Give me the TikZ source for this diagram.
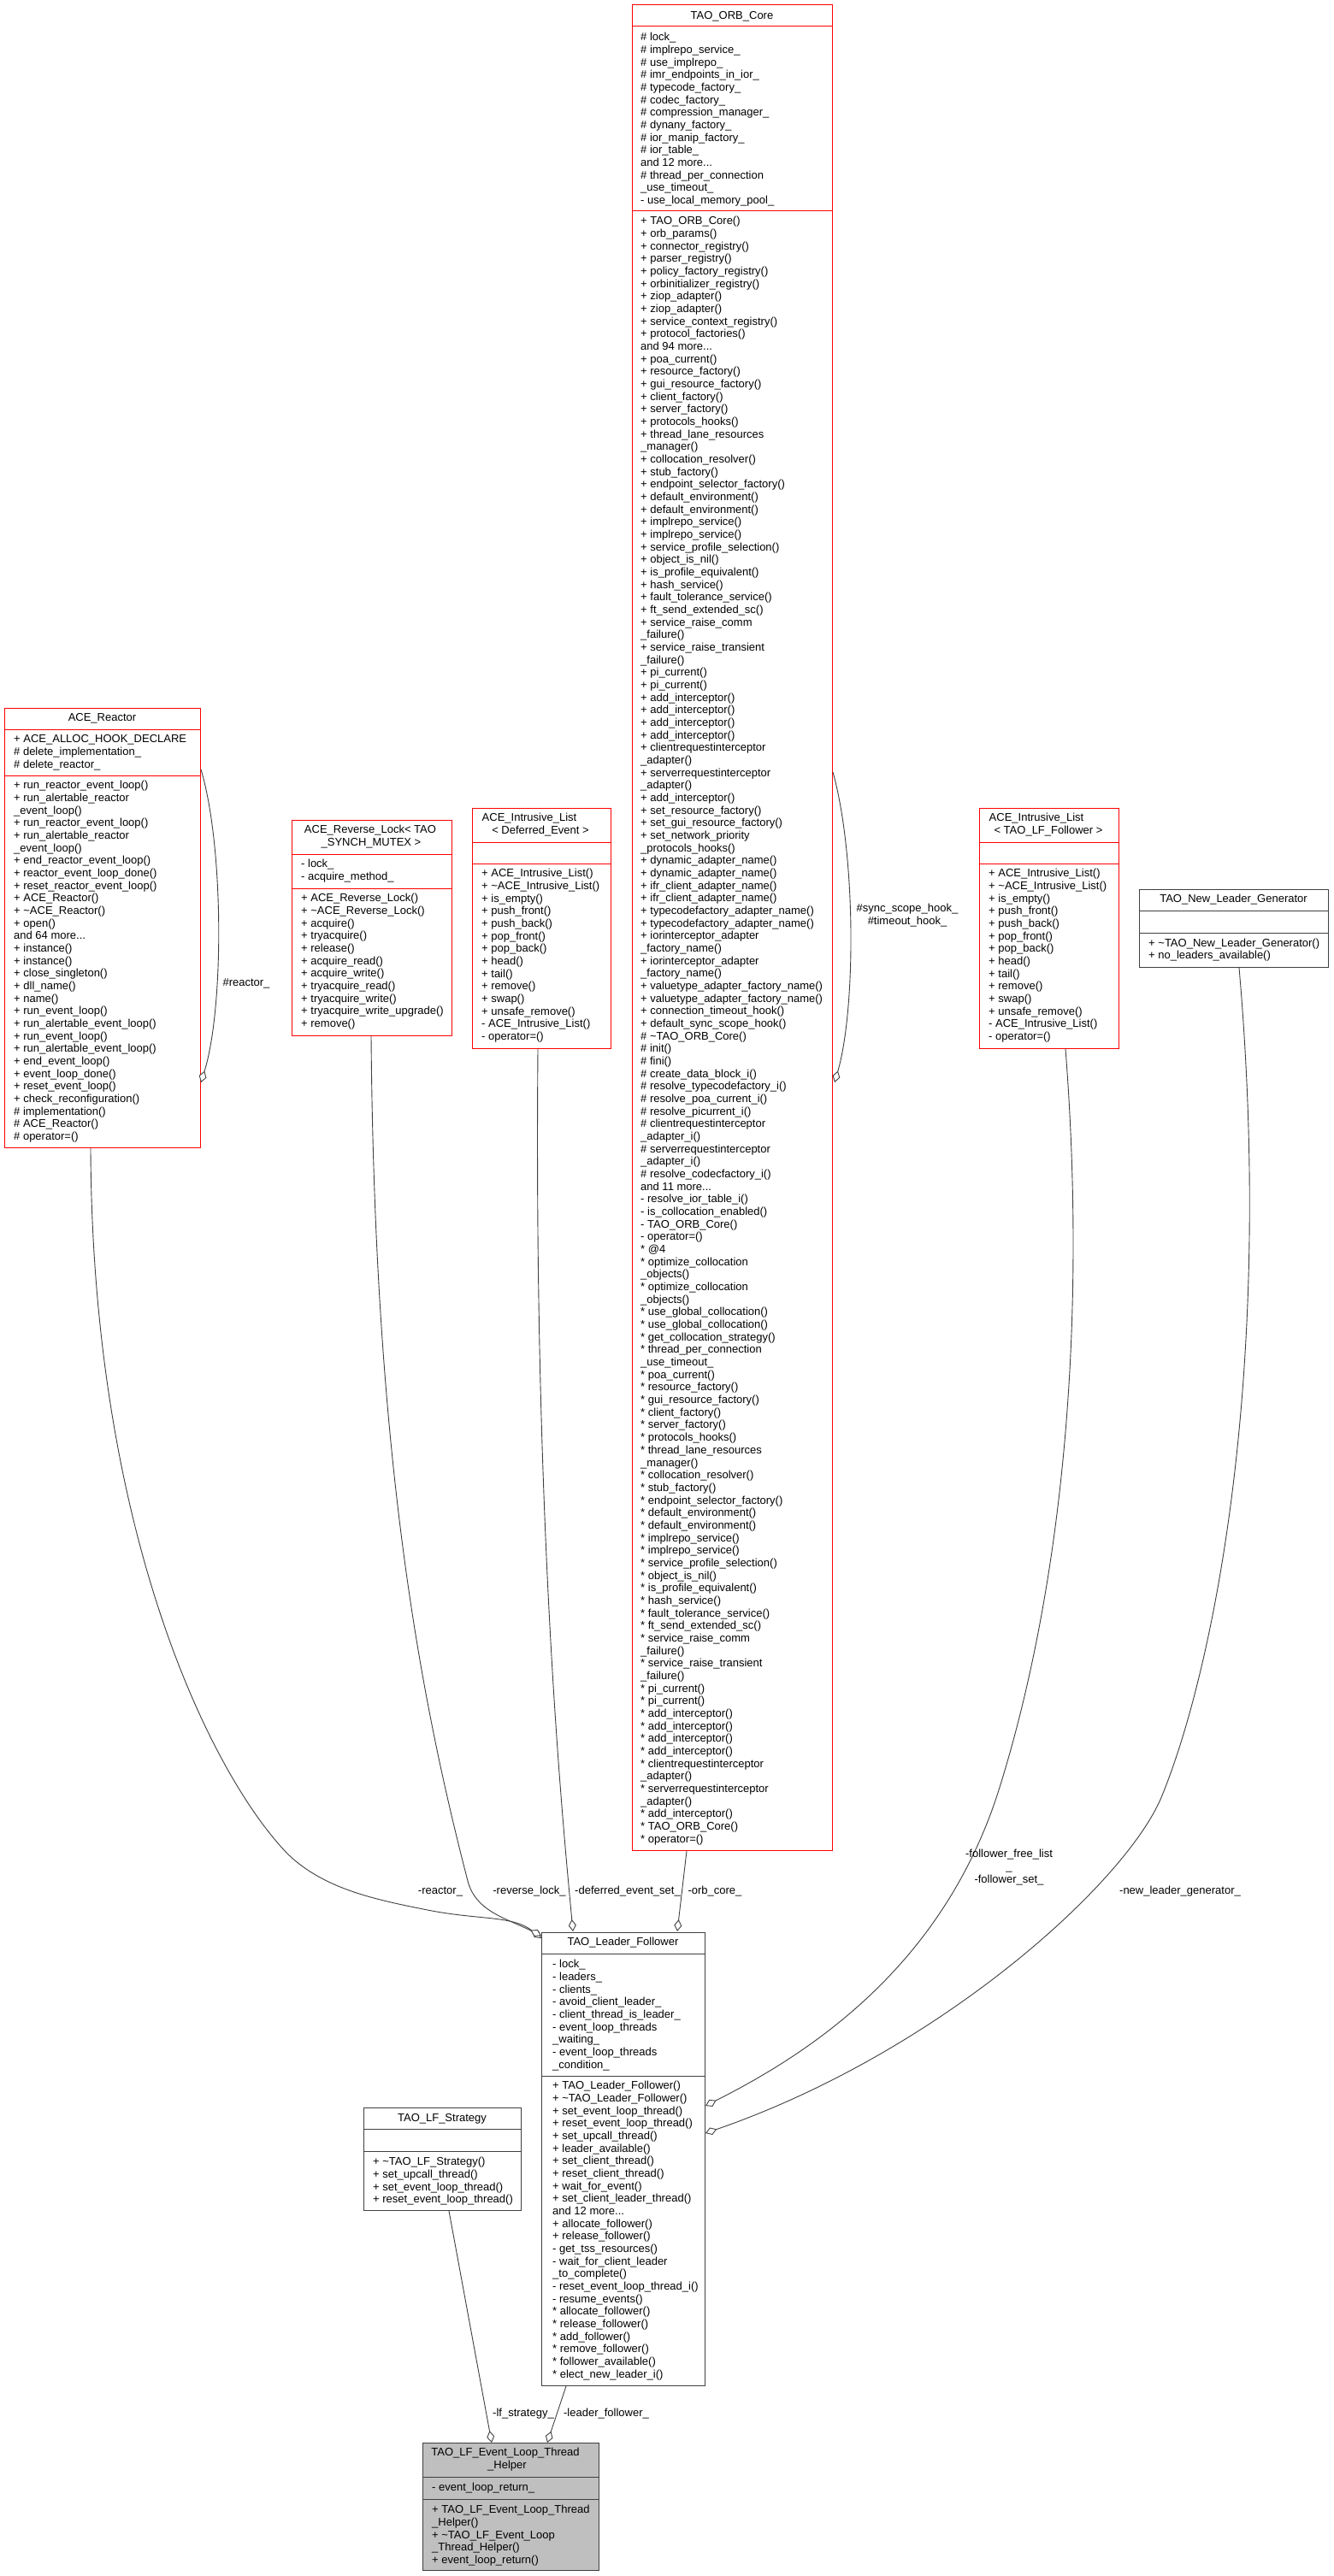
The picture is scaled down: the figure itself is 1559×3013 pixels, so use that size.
\documentclass[tikz,border=0pt]{standalone}
\usepackage{fontspec}
\setmainfont{Liberation Sans}
\usetikzlibrary{arrows.meta,calc}
\newcommand\ff{\fontsize{13}{14.67}\selectfont}
\newcommand\tld{\textasciitilde{}}
\newcommand\mline[1]{\hbox{\strut#1}}
\begin{document}
\catcode`\_=12
\begin{tikzpicture}[x=1pt,y=-1pt,
  redbox/.style={draw=red, line width=1pt, inner sep=0pt, anchor=north west},
  blkbox/.style={draw=black!75, line width=1pt, inner sep=0pt, anchor=north west},
  redsep/.style={draw=red, line width=1pt},
  blksep/.style={draw=black!75, line width=1pt},
  txt/.style={anchor=north west, inner sep=0pt, font=\ff},
  ttl/.style={anchor=base, inner sep=0pt, font=\ff},
  elab/.style={anchor=base, inner sep=0pt, font=\ff, align=center},
  conn/.style={draw=black!75, line width=0.9pt},
  agg/.style={conn, -{Diamond[length=14pt, width=9pt, fill=white]}}]
\fill[white] (0,0) rectangle (1559,3013);
\useasboundingbox (0,0) rectangle (1559,3013);

% ---------------- TAO_ORB_Core
\node[redbox, minimum width=234pt, minimum height=2159pt] (orb) at (739,5) {};
\draw[redsep] (739,31) -- (973,31);
\draw[redsep] (739,246) -- (973,246);
\node[ttl] (orbT) at (856,22.5) {TAO_ORB_Core};
\node[txt] (orbA) at (749,37.2) {\vtop{\mline{\# lock_}
\mline{\# implrepo_service_}
\mline{\# use_implrepo_}
\mline{\# imr_endpoints_in_ior_}
\mline{\# typecode_factory_}
\mline{\# codec_factory_}
\mline{\# compression_manager_}
\mline{\# dynany_factory_}
\mline{\# ior_manip_factory_}
\mline{\# ior_table_}
\mline{and 12 more...}
\mline{\# thread_per_connection}
\mline{_use_timeout_}
\mline{- use_local_memory_pool_}}};
\node[txt] (orbM) at (749,252.2) {\vtop{\mline{+ TAO_ORB_Core()}
\mline{+ orb_params()}
\mline{+ connector_registry()}
\mline{+ parser_registry()}
\mline{+ policy_factory_registry()}
\mline{+ orbinitializer_registry()}
\mline{+ ziop_adapter()}
\mline{+ ziop_adapter()}
\mline{+ service_context_registry()}
\mline{+ protocol_factories()}
\mline{and 94 more...}
\mline{+ poa_current()}
\mline{+ resource_factory()}
\mline{+ gui_resource_factory()}
\mline{+ client_factory()}
\mline{+ server_factory()}
\mline{+ protocols_hooks()}
\mline{+ thread_lane_resources}
\mline{_manager()}
\mline{+ collocation_resolver()}
\mline{+ stub_factory()}
\mline{+ endpoint_selector_factory()}
\mline{+ default_environment()}
\mline{+ default_environment()}
\mline{+ implrepo_service()}
\mline{+ implrepo_service()}
\mline{+ service_profile_selection()}
\mline{+ object_is_nil()}
\mline{+ is_profile_equivalent()}
\mline{+ hash_service()}
\mline{+ fault_tolerance_service()}
\mline{+ ft_send_extended_sc()}
\mline{+ service_raise_comm}
\mline{_failure()}
\mline{+ service_raise_transient}
\mline{_failure()}
\mline{+ pi_current()}
\mline{+ pi_current()}
\mline{+ add_interceptor()}
\mline{+ add_interceptor()}
\mline{+ add_interceptor()}
\mline{+ add_interceptor()}
\mline{+ clientrequestinterceptor}
\mline{_adapter()}
\mline{+ serverrequestinterceptor}
\mline{_adapter()}
\mline{+ add_interceptor()}
\mline{+ set_resource_factory()}
\mline{+ set_gui_resource_factory()}
\mline{+ set_network_priority}
\mline{_protocols_hooks()}
\mline{+ dynamic_adapter_name()}
\mline{+ dynamic_adapter_name()}
\mline{+ ifr_client_adapter_name()}
\mline{+ ifr_client_adapter_name()}
\mline{+ typecodefactory_adapter_name()}
\mline{+ typecodefactory_adapter_name()}
\mline{+ iorinterceptor_adapter}
\mline{_factory_name()}
\mline{+ iorinterceptor_adapter}
\mline{_factory_name()}
\mline{+ valuetype_adapter_factory_name()}
\mline{+ valuetype_adapter_factory_name()}
\mline{+ connection_timeout_hook()}
\mline{+ default_sync_scope_hook()}
\mline{\# \tld TAO_ORB_Core()}
\mline{\# init()}
\mline{\# fini()}
\mline{\# create_data_block_i()}
\mline{\# resolve_typecodefactory_i()}
\mline{\# resolve_poa_current_i()}
\mline{\# resolve_picurrent_i()}
\mline{\# clientrequestinterceptor}
\mline{_adapter_i()}
\mline{\# serverrequestinterceptor}
\mline{_adapter_i()}
\mline{\# resolve_codecfactory_i()}
\mline{and 11 more...}
\mline{- resolve_ior_table_i()}
\mline{- is_collocation_enabled()}
\mline{- TAO_ORB_Core()}
\mline{- operator=()}
\mline{* @4}
\mline{* optimize_collocation}
\mline{_objects()}
\mline{* optimize_collocation}
\mline{_objects()}
\mline{* use_global_collocation()}
\mline{* use_global_collocation()}
\mline{* get_collocation_strategy()}
\mline{* thread_per_connection}
\mline{_use_timeout_}
\mline{* poa_current()}
\mline{* resource_factory()}
\mline{* gui_resource_factory()}
\mline{* client_factory()}
\mline{* server_factory()}
\mline{* protocols_hooks()}
\mline{* thread_lane_resources}
\mline{_manager()}
\mline{* collocation_resolver()}
\mline{* stub_factory()}
\mline{* endpoint_selector_factory()}
\mline{* default_environment()}
\mline{* default_environment()}
\mline{* implrepo_service()}
\mline{* implrepo_service()}
\mline{* service_profile_selection()}
\mline{* object_is_nil()}
\mline{* is_profile_equivalent()}
\mline{* hash_service()}
\mline{* fault_tolerance_service()}
\mline{* ft_send_extended_sc()}
\mline{* service_raise_comm}
\mline{_failure()}
\mline{* service_raise_transient}
\mline{_failure()}
\mline{* pi_current()}
\mline{* pi_current()}
\mline{* add_interceptor()}
\mline{* add_interceptor()}
\mline{* add_interceptor()}
\mline{* add_interceptor()}
\mline{* clientrequestinterceptor}
\mline{_adapter()}
\mline{* serverrequestinterceptor}
\mline{_adapter()}
\mline{* add_interceptor()}
\mline{* TAO_ORB_Core()}
\mline{* operator=()}}};

% ---------------- ACE_Reactor
\node[redbox, minimum width=229pt, minimum height=514pt] (reactor) at (5,828) {};
\draw[redsep] (5,853) -- (234,853);
\draw[redsep] (5,907) -- (234,907);
\node[ttl] (reactorT) at (119.5,843.5) {ACE_Reactor};
\node[txt] (reactorA) at (16,858.2) {\vtop{\mline{+ ACE_ALLOC_HOOK_DECLARE}
\mline{\# delete_implementation_}
\mline{\# delete_reactor_}}};
\node[txt] (reactorM) at (16,912.2) {\vtop{\mline{+ run_reactor_event_loop()}
\mline{+ run_alertable_reactor}
\mline{_event_loop()}
\mline{+ run_reactor_event_loop()}
\mline{+ run_alertable_reactor}
\mline{_event_loop()}
\mline{+ end_reactor_event_loop()}
\mline{+ reactor_event_loop_done()}
\mline{+ reset_reactor_event_loop()}
\mline{+ ACE_Reactor()}
\mline{+ \tld ACE_Reactor()}
\mline{+ open()}
\mline{and 64 more...}
\mline{+ instance()}
\mline{+ instance()}
\mline{+ close_singleton()}
\mline{+ dll_name()}
\mline{+ name()}
\mline{+ run_event_loop()}
\mline{+ run_alertable_event_loop()}
\mline{+ run_event_loop()}
\mline{+ run_alertable_event_loop()}
\mline{+ end_event_loop()}
\mline{+ event_loop_done()}
\mline{+ reset_event_loop()}
\mline{+ check_reconfiguration()}
\mline{\# implementation()}
\mline{\# ACE_Reactor()}
\mline{\# operator=()}}};

% ---------------- ACE_Reverse_Lock
\node[redbox, minimum width=187pt, minimum height=252pt] (rlock) at (341,959) {};
\draw[redsep] (341,999) -- (528,999);
\draw[redsep] (341,1039) -- (528,1039);
\node[ttl] (rlockT) at (433,974.5) {ACE_Reverse_Lock< TAO};
\node[ttl] (rlockU) at (434,989.2) {_SYNCH_MUTEX >};
\node[txt] (rlockA) at (352,1004.2) {\vtop{\mline{- lock_}
\mline{- acquire_method_}}};
\node[txt] (rlockM) at (352,1044.2) {\vtop{\mline{+ ACE_Reverse_Lock()}
\mline{+ \tld ACE_Reverse_Lock()}
\mline{+ acquire()}
\mline{+ tryacquire()}
\mline{+ release()}
\mline{+ acquire_read()}
\mline{+ acquire_write()}
\mline{+ tryacquire_read()}
\mline{+ tryacquire_write()}
\mline{+ tryacquire_write_upgrade()}
\mline{+ remove()}}};

% ---------------- ACE_Intrusive_List< Deferred_Event >
\node[redbox, minimum width=162pt, minimum height=281pt] (ildef) at (552,945) {};
\draw[redsep] (552,985) -- (714,985);
\draw[redsep] (552,1010) -- (714,1010);
\node[ttl] (ildefT) at (619,960.5) {ACE_Intrusive_List};
\node[ttl] (ildefU) at (632,975) {< Deferred_Event >};
\node[txt] (ildefM) at (563,1015.2) {\vtop{\mline{+ ACE_Intrusive_List()}
\mline{+ \tld ACE_Intrusive_List()}
\mline{+ is_empty()}
\mline{+ push_front()}
\mline{+ push_back()}
\mline{+ pop_front()}
\mline{+ pop_back()}
\mline{+ head()}
\mline{+ tail()}
\mline{+ remove()}
\mline{+ swap()}
\mline{+ unsafe_remove()}
\mline{- ACE_Intrusive_List()}
\mline{- operator=()}}};

% ---------------- ACE_Intrusive_List< TAO_LF_Follower >
\node[redbox, minimum width=163pt, minimum height=281pt] (ilfol) at (1145,945) {};
\draw[redsep] (1145,985) -- (1308,985);
\draw[redsep] (1145,1010) -- (1308,1010);
\node[ttl] (ilfolT) at (1212,960.5) {ACE_Intrusive_List};
\node[ttl] (ilfolU) at (1226,975) {< TAO_LF_Follower >};
\node[txt] (ilfolM) at (1156,1015.2) {\vtop{\mline{+ ACE_Intrusive_List()}
\mline{+ \tld ACE_Intrusive_List()}
\mline{+ is_empty()}
\mline{+ push_front()}
\mline{+ push_back()}
\mline{+ pop_front()}
\mline{+ pop_back()}
\mline{+ head()}
\mline{+ tail()}
\mline{+ remove()}
\mline{+ swap()}
\mline{+ unsafe_remove()}
\mline{- ACE_Intrusive_List()}
\mline{- operator=()}}};

% ---------------- TAO_New_Leader_Generator
\node[blkbox, minimum width=221pt, minimum height=91pt] (nlg) at (1332,1040) {};
\draw[blksep] (1332,1065) -- (1553,1065);
\draw[blksep] (1332,1091) -- (1553,1091);
\node[ttl] (nlgT) at (1442.5,1055.5) {TAO_New_Leader_Generator};
\node[txt] (nlgM) at (1343,1096.7) {\vtop{\mline{+ \tld TAO_New_Leader_Generator()}
\mline{+ no_leaders_available()}}};

% ---------------- TAO_Leader_Follower
\node[blkbox, minimum width=191pt, minimum height=530pt] (lf) at (633,2260) {};
\draw[blksep] (633,2285) -- (824,2285);
\draw[blksep] (633,2428) -- (824,2428);
\node[ttl] (lfT) at (728.5,2275.5) {TAO_Leader_Follower};
\node[txt] (lfA) at (646,2291.2) {\vtop{\mline{- lock_}
\mline{- leaders_}
\mline{- clients_}
\mline{- avoid_client_leader_}
\mline{- client_thread_is_leader_}
\mline{- event_loop_threads}
\mline{_waiting_}
\mline{- event_loop_threads}
\mline{_condition_}}};
\node[txt] (lfM) at (646,2433.2) {\vtop{\mline{+ TAO_Leader_Follower()}
\mline{+ \tld TAO_Leader_Follower()}
\mline{+ set_event_loop_thread()}
\mline{+ reset_event_loop_thread()}
\mline{+ set_upcall_thread()}
\mline{+ leader_available()}
\mline{+ set_client_thread()}
\mline{+ reset_client_thread()}
\mline{+ wait_for_event()}
\mline{+ set_client_leader_thread()}
\mline{and 12 more...}
\mline{+ allocate_follower()}
\mline{+ release_follower()}
\mline{- get_tss_resources()}
\mline{- wait_for_client_leader}
\mline{_to_complete()}
\mline{- reset_event_loop_thread_i()}
\mline{- resume_events()}
\mline{* allocate_follower()}
\mline{* release_follower()}
\mline{* add_follower()}
\mline{* remove_follower()}
\mline{* follower_available()}
\mline{* elect_new_leader_i()}}};

% ---------------- TAO_LF_Strategy
\node[blkbox, minimum width=184pt, minimum height=120pt] (strat) at (425,2465) {};
\draw[blksep] (425,2490) -- (609,2490);
\draw[blksep] (425,2516) -- (609,2516);
\node[ttl] (stratT) at (517,2481.5) {TAO_LF_Strategy};
\node[txt] (stratM) at (436,2522.2) {\vtop{\mline{+ \tld TAO_LF_Strategy()}
\mline{+ set_upcall_thread()}
\mline{+ set_event_loop_thread()}
\mline{+ reset_event_loop_thread()}}};

% ---------------- TAO_LF_Event_Loop_Thread_Helper
\node[blkbox, fill=black!25, minimum width=206pt, minimum height=149pt] (helper) at (494,2857) {};
\draw[blksep] (494,2897) -- (700,2897);
\draw[blksep] (494,2923) -- (700,2923);
\node[ttl] (helperT) at (591,2872.5) {TAO_LF_Event_Loop_Thread};
\node[ttl] (helperU) at (593,2887.2) {_Helper};
\node[txt] (helperA) at (505,2903.2) {\vtop{\mline{- event_loop_return_}}};
\node[txt] (helperM) at (505,2929.2) {\vtop{\mline{+ TAO_LF_Event_Loop_Thread}
\mline{_Helper()}
\mline{+ \tld TAO_LF_Event_Loop}
\mline{_Thread_Helper()}
\mline{+ event_loop_return()}}};

% ---------------- connector end points
\coordinate (rS) at ($(reactor.south west)+(101,0)$);
\coordinate (rL1) at ($(reactor.north east)+(0,72)$);
\coordinate (rL2) at ($(reactor.north east)+(0,438)$);
\coordinate (rlS) at ($(rlock.south west)+(93,0)$);
\coordinate (idS) at ($(ildef.south west)+(77,0)$);
\coordinate (oS) at ($(orb.south west)+(64,0)$);
\coordinate (oL1) at ($(orb.north east)+(0,898)$);
\coordinate (oL2) at ($(orb.north east)+(2,1261)$);
\coordinate (fS) at ($(ilfol.south west)+(101,0)$);
\coordinate (nS) at ($(nlg.south west)+(117,0)$);
\coordinate (sS) at ($(strat.south west)+(100,0)$);
\coordinate (lS) at ($(lf.south west)+(29,0)$);
\coordinate (lfR) at ($(lf.north west)+(0,7)$);
\coordinate (lfRL) at ($(lf.north west)+(0,4)$);
\coordinate (lfD) at ($(lf.north west)+(37,-1)$);
\coordinate (lfO) at ($(lf.north west)+(159,-1)$);
\coordinate (lfF) at ($(lf.north east)+(0,203)$);
\coordinate (lfN) at ($(lf.north east)+(0,235)$);
\coordinate (hS) at ($(helper.north west)+(81,0)$);
\coordinate (hL) at ($(helper.north west)+(146,0)$);

% ---------------- connectors
\draw[agg] (rL1) .. controls (262,990) and (262,1180) .. (rL2);
\draw[agg] (oL1) .. controls (1001,1000) and (1001,1180) .. (oL2);
\draw[agg] (rS) .. controls (108,1800) and (250,2080) .. (337,2169)
  .. controls (380,2210) and (440,2222) .. (500,2234)
  .. controls (560,2246) and (600,2240) .. (lfR);
\draw[agg] (rlS) .. controls (438,1700) and (490,1980) .. (547,2200)
  .. controls (556,2235) and (590,2243) .. (lfRL);
\draw[agg] (idS) .. controls (624,1800) and (660,2150) .. (lfD);
\draw[agg] (oS) -- (lfO);
\draw[agg] (fS) .. controls (1275,1600) and (1230,1900) .. (1166,2100)
  .. controls (1100,2300) and (950,2400) .. (lfF);
\draw[agg] (nS) .. controls (1490,1600) and (1420,1950) .. (1359,2100)
  .. controls (1319,2200) and (1100,2400) .. (lfN);
\draw[agg] (sS) -- (hS);
\draw[agg] (lS) -- (hL);

% ---------------- connector labels
\node[elab] (lbRloop) at (288,1153.5) {\#reactor_};
\node[elab] (lbOloop) at (1061,1081.5) {\#sync_scope_hook_\\\#timeout_hook_};
\node[elab] (lbR) at (515,2215.5) {-reactor_};
\node[elab] (lbRL) at (619,2215.5) {-reverse_lock_};
\node[elab] (lbD) at (734,2215.5) {-deferred_event_set_};
\node[elab] (lbO) at (836,2215.5) {-orb_core_};
\node[elab] (lbF) at (1180,2202) {-follower_free_list\\_\\-follower_set_};
\node[elab] (lbN) at (1380,2215.5) {-new_leader_generator_};
\node[elab] (lbS) at (612,2826.5) {-lf_strategy_};
\node[elab] (lbL) at (709,2826.5) {-leader_follower_};
\end{tikzpicture}
\end{document}
